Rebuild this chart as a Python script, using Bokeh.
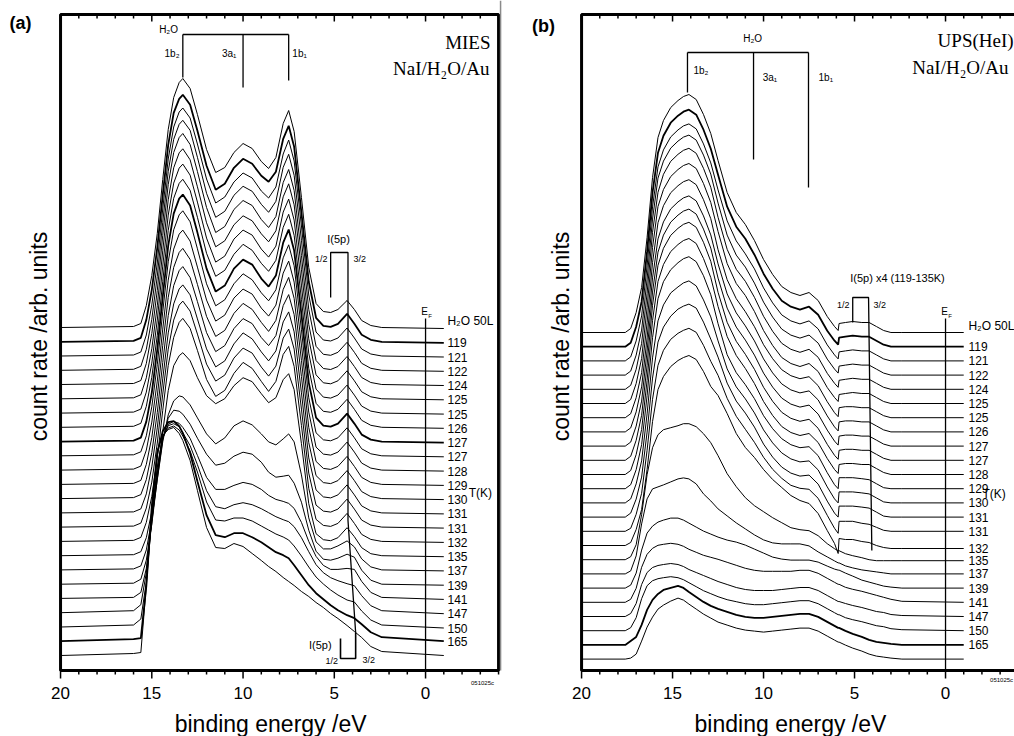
import math
from bokeh.plotting import figure
from bokeh.models import Range1d, Label, ColumnDataSource
from bokeh.layouts import row
from bokeh.embed import file_html
from bokeh.resources import INLINE
from bokeh.core.properties import value

SANS = "Liberation Sans"
SERIF = "Liberation Serif"

# ---------------- data ----------------
temps = ["119", "121", "122", "124", "125", "125", "126", "127", "127", "128", "129",
         "130", "131", "131", "132", "135", "137", "139", "141", "147", "150", "165"]
curve_labels = ["H\u2082O 50L"] + temps + [""]

major_ticks = [20, 15, 10, 5, 0]
tick_text = ["20", "15", "10", "5", "0"]
minor_ticks = [19, 18, 17, 16, 14, 13, 12, 11, 9, 8, 7, 6, 4, 3, 2, 1, -1, -2, -3, -4]

# (a) MIES: binding energies (eV) and intensities above each spectrum's own baseline
energy_a = [20, 16.0, 15.6, 15.3, 15.0, 14.7, 14.4, 14.1, 13.8, 13.5, 13.3, 12.9, 12.5, 12.0,
            11.5, 11.0, 10.5, 10.0, 9.5, 9.0, 8.6, 8.2, 7.8, 7.5, 7.2, 6.8, 6.4, 6.0, 5.6,
            5.2, 4.8, 4.3, 3.9, 3.5, 3.0, 2.4, -1.0]
offset_a = [343.0, 328.7, 314.5, 300.2, 286.0, 271.7, 257.4, 243.2, 228.9, 214.7, 200.4, 186.1,
            171.9, 157.6, 143.4, 129.1, 114.8, 100.6, 86.3, 72.1, 57.8, 43.5, 29.3, 15.0]
mies = [
    [0,1,4,22,52,94,148,198,230,245,249,239,213,178,155,160,175,184,179,166,159,170,204,217,196,130,60,24,16,15,18,27,18,7,2,0,-1],
    [0,1,4,22,52,94,147,197,229,243,247,237,211,176,152,158,174,183,178,166,160,170,203,216,195,129,60,24,16,15,18,28,18,7,2,0,-1],
    [0,1,4,21,51,93,147,197,229,244,248,238,212,177,153,159,174,183,178,165,158,169,202,216,195,130,61,24,16,15,18,28,18,7,2,0,-1],
    [0,1,4,21,51,94,148,199,231,246,250,240,213,177,153,159,175,184,179,166,158,169,203,216,195,130,61,24,16,15,18,28,18,7,2,0,-1],
    [0,1,4,21,51,94,149,200,232,247,251,240,213,177,152,158,175,184,179,165,157,168,202,215,194,129,60,24,16,15,18,28,18,7,2,0,-1],
    [0,1,4,21,50,93,148,199,231,246,250,239,212,176,152,158,174,183,178,165,157,168,202,215,194,129,60,24,16,15,18,28,18,7,2,0,-1],
    [0,1,4,21,50,93,147,198,230,245,249,238,211,175,151,157,174,183,178,164,156,167,201,214,193,128,60,24,16,15,18,28,18,7,2,0,-1],
    [0,1,4,21,50,92,146,197,229,244,248,237,210,174,151,157,173,183,177,164,156,167,200,213,192,128,59,24,16,15,18,28,18,7,2,0,-1],
    [0,1,4,20,49,92,145,196,228,243,247,236,209,173,150,156,173,182,177,163,155,166,199,212,191,127,59,24,16,15,18,28,18,7,2,0,-1],
    [0,1,4,20,49,91,144,194,226,241,245,234,207,172,150,156,172,182,176,163,155,166,198,211,190,126,58,23,16,15,18,28,18,7,2,0,-1],
    [0,1,4,20,48,89,141,190,221,236,240,229,203,170,149,155,172,181,176,162,154,165,197,209,188,125,58,23,16,15,18,28,18,7,2,0,-1],
    [0,1,4,20,47,88,139,187,217,232,236,225,200,168,148,154,171,181,175,162,153,164,195,207,186,124,57,23,16,15,18,28,18,7,2,0,-1],
    [0,1,4,19,46,86,136,183,213,228,232,221,197,166,147,153,170,180,175,161,153,163,193,204,184,122,56,23,16,15,18,28,18,7,2,0,-1],
    [0,1,4,19,46,85,134,180,209,224,228,218,194,164,146,152,169,180,174,161,152,162,191,201,181,120,55,23,16,15,18,28,18,7,2,0,-1],
    [0,1,4,19,45,84,133,178,207,222,226,216,193,163,146,152,169,179,174,160,151,161,189,198,178,118,54,22,16,15,18,28,18,7,2,0,-1],
    [0,1,4,19,45,83,131,176,204,219,223,213,191,162,145,151,168,179,173,160,150,160,187,195,175,116,53,22,16,15,18,28,18,7,2,0,-1],
    [0,1,4,18,44,80,124,165,190,200,203,195,178,160,152,157,170,178,174,162,153,158,176,182,166,112,52,22,16,15,18,28,19,8,2,0,-1],
    [0,1,4,20,50,90,128,155,169,174,173,165,152,136,126,132,144,149,145,136,128,125,131,136,128,95,52,28,21,21,24,29,23,11,3,0,-1],
    [0,1,5,24,60,105,145,166,174,173,170,160,146,130,119,121,128,132,130,122,112,107,108,109,101,82,54,33,25,24,26,30,27,14,4,0,-1],
    [0,1,6,30,75,125,160,174,177,175,171,160,143,121,109,109,113,116,114,109,103,99,97,95,90,76,57,42,33,29,29,30,29,17,6,1,-1],
    [0,2,8,40,95,145,176,187,189,186,180,167,148,122,106,104,108,110,108,104,100,96,93,91,86,75,61,48,40,35,32,29,27,17,7,2,-1],
    [0,2,8,45,110,160,190,199,201,197,191,176,155,125,107,106,109,109,106,101,97,93,90,87,81,71,60,50,43,37,32,27,25,16,7,2,-1],
    [0,2,3,55,135,188,210,219,220,215,208,188,160,126,106,104,108,108,104,99,94,89,86,83,76,66,56,48,42,36,31,26,23,17,9,4,0],
    [0,2,3,70,140,205,220,226,228,222,215,195,165,128,108,107,112,109,102,95,89,84,78,74,70,64,59,53,48,42,37,30,24,18,9,4,0],
]

# (b) UPS(HeI)
energy_b = [20, 17.6, 17.3, 17.0, 16.7, 16.4, 16.1, 15.8, 15.5, 15.1, 14.7, 14.4, 14.1, 13.7,
            13.3, 12.9, 12.5, 12.0, 11.5, 11.0, 10.5, 10.0, 9.5, 9.0, 8.5, 8.0, 7.5, 7.0, 6.5,
            6.1, 5.9, 5.85, 5.5, 5.1, 4.6, 4.2, 3.8, 3.4, 3.0, 2.4, -1.0]
offset_b = [338.0, 323.8, 309.6, 295.4, 281.2, 267.0, 252.8, 238.6, 224.4, 210.2, 196.0, 181.8,
            167.6, 153.4, 139.2, 125.0, 110.8, 96.6, 82.4, 68.2, 54.0, 39.8, 25.6, 11.4]
ups = [
    [0,0,4,20,45,95,155,195,212,225,232,236,238,233,218,199,172,140,120,108,92,73,58,46,40,37,40,32,16,6,2,9,10,11,10,10,6,2,0,0,0],
    [0,0,4,20,45,95,154,194,211,224,231,235,237,232,217,198,172,140,120,108,92,73,58,46,40,37,40,32,16,6,2,9,10,11,10,10,6,2,0,0,0],
    [0,0,4,20,45,95,154,194,211,224,231,235,237,232,217,198,171,140,120,107,92,73,58,46,40,37,40,32,16,6,2,9,10,11,10,10,6,2,0,0,0],
    [0,0,4,20,45,96,156,197,214,227,234,238,240,235,220,201,172,140,120,108,92,73,58,46,40,37,40,32,16,6,2,9,10,11,10,10,6,2,0,0,0],
    [0,0,4,20,46,96,157,197,215,228,235,239,241,236,221,202,172,140,120,108,92,73,58,46,40,37,40,32,16,6,2,9,10,11,10,10,6,2,0,0,0],
    [0,0,4,20,45,96,156,197,214,227,234,238,240,235,220,201,172,140,120,108,92,73,58,46,40,37,40,32,16,6,2,9,10,11,10,10,6,2,0,0,0],
    [0,0,4,20,45,95,155,195,212,225,232,236,238,233,218,199,168,138,119,106,91,73,59,48,42,39,41,32,16,5,1,10,11,11,10,10,6,2,0,0,0],
    [0,0,4,20,45,94,154,193,210,223,230,234,236,231,216,197,168,138,119,106,91,73,59,48,42,39,41,32,16,5,1,10,11,11,10,10,6,2,0,0,0],
    [0,0,4,20,45,95,154,194,211,224,231,235,237,232,217,198,168,138,119,106,91,73,59,48,42,39,41,32,16,5,1,10,11,11,10,10,6,2,0,0,0],
    [0,0,4,20,45,95,155,195,212,225,232,236,238,233,218,199,168,138,119,106,91,73,59,48,42,39,41,32,16,5,1,10,11,11,10,10,6,2,0,0,0],
    [0,0,4,20,45,94,154,193,210,223,230,234,236,231,216,197,168,138,119,106,91,73,59,48,42,39,41,32,16,5,1,10,11,11,10,10,6,2,0,0,0],
    [0,0,4,19,44,93,151,190,207,219,226,230,232,227,213,194,165,134,116,104,90,73,60,50,44,41,42,33,16,4,0,11,11,11,10,9,5,1,0,0,0],
    [0,0,4,19,42,89,145,182,198,210,216,220,222,217,203,186,162,134,116,104,90,73,60,50,44,41,42,33,16,4,0,11,11,11,10,9,5,1,0,0,0],
    [0,0,4,18,40,85,139,175,190,201,208,211,213,209,195,178,160,134,116,104,90,73,60,50,44,41,42,33,16,4,0,11,11,11,10,9,5,1,0,0,0],
    [0,0,3,17,38,81,132,166,181,192,198,201,203,199,186,170,156,133,115,102,89,74,62,53,46,43,42,33,16,3,-2,10,10,10,8,7,4,1,0,0,0],
    [0,0,3,16,36,76,124,156,169,179,185,188,190,186,174,159,150,132,112,98,88,76,66,58,50,45,42,32,15,2,-8,7,6,6,4,3,0,-2,-3,-3,-3],
    [0,0,3,15,45,85,112,125,130,132,134,136,136,133,126,117,104,86,73,62,54,48,42,37,32,30,29,24,16,11,9,9,6,4,2,0,-1,-1,-1,-1,-1],
    [0,0,3,18,50,75,85,87,89,92,95,96,95,90,80,73,65,58,51,45,39,34,31,30,30,30,28,22,17,13,11,11,8,6,4,3,2,1,0,0,0],
    [0,0,3,15,38,55,62,66,68,70,70,68,65,61,57,54,51,48,46,43,39,35,31,29,28,28,28,26,22,19,18,18,15,12,8,6,4,2,1,0,0],
    [0,0,3,14,35,48,54,57,58,59,58,56,53,50,47,45,43,40,37,34,32,31,31,31,31,32,32,29,24,20,18,18,15,13,11,9,7,5,3,1,0],
    [0,0,3,13,32,44,49,51,52,53,52,50,47,44,41,38,35,32,29,27,26,26,26,27,28,29,29,26,21,17,15,15,13,11,9,7,5,4,2,1,0],
    [0,0,3,13,32,45,50,52,53,54,53,51,48,44,40,37,34,31,29,27,26,26,27,28,29,30,30,27,22,18,16,16,13,11,9,7,5,4,2,1,0],
    [0,0,4,8,20,35,45,51,55,57,59,57,53,48,43,39,36,33,30,28,27,27,28,29,30,31,31,28,23,19,17,17,14,11,8,5,3,2,1,0,0],
    [0,0,1,5,18,32,42,50,54,58,61,59,55,50,45,41,37,34,31,29,28,27,28,29,30,31,31,28,23,19,17,17,14,11,8,5,3,2,1,0,0],
]
thick_a = [1, 8, 22]
thick_b = [1, 22]

# marker positions (eV) of the water orbitals and I(5p) components
h2o_peaks_a = [13.3, 10.0, 7.5]
h2o_peaks_b = [14.18, 10.55, 7.53]
i5p_a = [5.2, 4.25]
i5p_b = [5.1, 4.23]

# frame: energy window and count-rate window shown in each panel
frame_e = [20, -4]
frame_top = 656


def label(p, x, y, text, size, align="left", font=SANS, style="normal", baseline="middle", angle=0.0):
    p.add_layout(Label(x=x, y=y, text=text, text_font=font, text_font_size=f"{size}px",
                       text_align=align, text_baseline=baseline, text_font_style=style,
                       text_color="black", angle=angle))


def make_fig(x_left, x_right, closed, xlabel_e, ylabel_e):
    p = figure(width=507, height=736, x_range=Range1d(x_left, x_right), y_range=Range1d(-66, 670),
               x_axis_location=None, y_axis_location=None, toolbar_location=None,
               output_backend="svg", min_border=0, min_border_left=0, min_border_right=0,
               min_border_top=0, min_border_bottom=0)
    p.grid.visible = False
    p.outline_line_color = None
    p.background_fill_color = "white"
    p.border_fill_color = "white"

    # frame
    if closed:
        p.quad(left=[frame_e[0]], right=[frame_e[1]], bottom=[0], top=[frame_top],
               fill_color=None, line_color="black", line_width=3)
    else:
        p.line(x=[-4.6, frame_e[0], frame_e[0], -4.6], y=[frame_top, frame_top, 0, 0],
               line_color="black", line_width=3)

    # ticks (bottom outward, top inward)
    mt = [t for t in minor_ticks if t >= x_right]
    p.segment(x0=major_ticks, y0=[0] * 5, x1=major_ticks, y1=[-8] * 5, line_color="black", line_width=1.5)
    p.segment(x0=mt, y0=[0] * len(mt), x1=mt, y1=[-4] * len(mt), line_color="black", line_width=1.5)
    p.segment(x0=major_ticks, y0=[frame_top] * 5, x1=major_ticks, y1=[frame_top - 7] * 5,
              line_color="black", line_width=1.5)
    p.segment(x0=mt, y0=[frame_top] * len(mt), x1=mt, y1=[frame_top - 4] * len(mt),
              line_color="black", line_width=1.5)
    p.text(x=major_ticks, y=[-22] * 5, text=tick_text, text_font=value(SANS), text_font_size="17px",
           text_align="center", text_baseline="middle", text_color="black")

    # axis titles
    label(p, xlabel_e, -53, "binding energy /eV", 23, align="center")
    label(p, ylabel_e, 334, "count rate /arb. units", 23, align="center", angle=math.pi / 2)
    return p


def draw_curves(p, energy, offsets, rows, thick, label_x, raise_first):
    xs, ys, ws = [], [], []
    for i, r in enumerate(rows):
        xs.append(energy)
        ys.append([offsets[i] + v for v in r])
        ws.append(1.8 if i in thick else 1.0)
    p.multi_line(xs="xs", ys="ys", line_width="w", line_color="black",
                 source=ColumnDataSource(dict(xs=xs, ys=ys, w=ws)))
    lx, ly, lt = [], [], []
    for i, r in enumerate(rows):
        if curve_labels[i]:
            lx.append(label_x)
            ly.append(offsets[i] + r[-1] + (raise_first if i == 0 else 0))
            lt.append(curve_labels[i])
    p.text(x=lx, y=ly, text=lt, text_font=value(SANS), text_font_size="12px",
           text_baseline="middle", text_align="left", text_color="black")


# ---------------- panel (a) ----------------
pa = make_fig(23.29, -4.49, True, 8.49, 21.2)
draw_curves(pa, energy_a, offset_a, mies, thick_a, -1.2, 8)

# thin divider at the right edge of panel (a)
pa.segment(x0=[-4.11], y0=[0], x1=[-4.11], y1=[670], line_color="#8a8a8a", line_width=1.5)

# E_F line
pa.segment(x0=[0], y0=[0], x1=[0], y1=[352], line_color="black", line_width=1.3)
label(pa, 0.05, 359, "E", 10, align="center")
label(pa, -0.25, 355, "F", 6, align="center")

# water bracket
pa.segment(x0=[h2o_peaks_a[0]], y0=[636], x1=[h2o_peaks_a[2]], y1=[636], line_color="black", line_width=1.3)
pa.segment(x0=h2o_peaks_a, y0=[636, 636, 636], x1=h2o_peaks_a, y1=[593, 583, 590],
           line_color="black", line_width=1.3)
label(pa, 14.08, 641, "H\u2082O", 10, align="center")
label(pa, 13.48, 617, "1b\u2082", 10, align="right")
label(pa, 10.36, 617, "3a\u2081", 10, align="right")
label(pa, 7.3, 617, "1b\u2081", 10, align="left")

# I(5p) top bracket and marker line
pa.line(x=[i5p_a[0], i5p_a[0], i5p_a[1], i5p_a[1], 3.83], y=[373, 418, 418, 150, 38],
        line_color="black", line_width=1.3)
label(pa, 4.77, 432, "I(5p)", 11, align="center")
label(pa, 5.37, 412, "1/2", 9, align="right")
label(pa, 3.95, 412, "3/2", 9, align="left")
# bottom bracket
pa.line(x=[4.66, 4.66, 3.83, 3.83], y=[32, 12, 12, 38], line_color="black", line_width=1.6)
label(pa, 5.15, 26, "I(5p)", 11, align="right")
label(pa, 4.8, 10, "1/2", 9, align="right")
label(pa, 3.45, 11, "3/2", 9, align="left")

label(pa, -3.56, 628, "MIES", 19, align="right", font=SERIF)
label(pa, -3.5, 602, "NaI/H\u2082O/Au", 19, align="right", font=SERIF)
label(pa, -2.36, 178, "T(K)", 12, align="left")
label(pa, 22.19, 648, "(a)", 18, align="center", style="bold")
label(pa, -3.12, -12, "051025c", 6, align="center")

# ---------------- panel (b) ----------------
pb = make_fig(24.07, -3.79, False, 8.52, 21.15)
draw_curves(pb, energy_b, offset_b, ups, thick_b, -1.26, 7)

pb.segment(x0=[0], y0=[0], x1=[0], y1=[352], line_color="black", line_width=1.3)
label(pb, 0.05, 359, "E", 10, align="center")
label(pb, -0.25, 355, "F", 6, align="center")

pb.segment(x0=[h2o_peaks_b[0]], y0=[618], x1=[h2o_peaks_b[2]], y1=[618], line_color="black", line_width=1.3)
pb.segment(x0=h2o_peaks_b, y0=[618, 618, 618], x1=h2o_peaks_b, y1=[578, 511, 483],
           line_color="black", line_width=1.3)
label(pb, 10.6, 632, "H\u2082O", 10, align="center")
label(pb, 13.85, 600, "1b\u2082", 10, align="left")
label(pb, 10.05, 593, "3a\u2081", 10, align="left")
label(pb, 6.98, 593, "1b\u2081", 10, align="left")

pb.line(x=[i5p_b[0], i5p_b[0], i5p_b[1], 4.05], y=[348, 373, 373, 120],
        line_color="black", line_width=1.3)
label(pb, 2.64, 393, "I(5p) x4 (119-135K)", 11, align="center")
label(pb, 5.27, 366, "1/2", 9, align="right")
label(pb, 3.96, 366, "3/2", 9, align="left")

label(pb, -3.74, 630, "UPS(HeI)", 19, align="right", font=SERIF)
label(pb, -3.46, 603, "NaI/H\u2082O/Au", 19, align="right", font=SERIF)
label(pb, -2.03, 177, "T(K)", 12, align="left")
label(pb, 22.09, 645, "(b)", 18, align="center", style="bold")
label(pb, -3.08, -9, "051025c", 6, align="center")

layout = row(pa, pb)
open("out.html", "w").write(file_html(layout, INLINE))
